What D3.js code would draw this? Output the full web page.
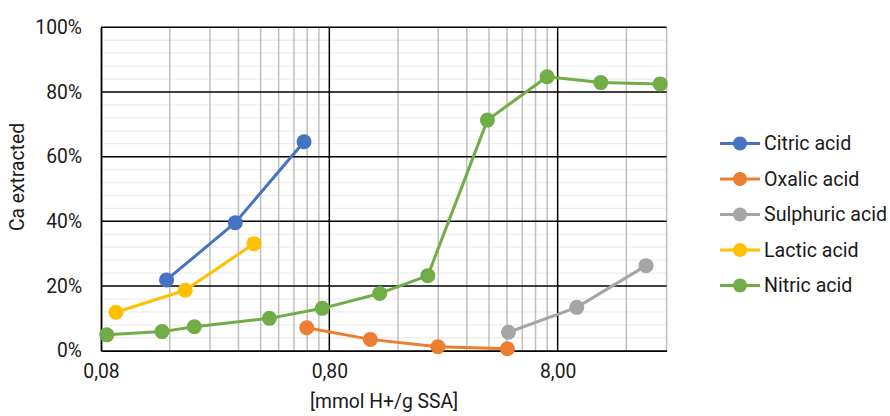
<!DOCTYPE html>
<html>
<head>
<meta charset="utf-8">
<script src="https://cdn.jsdelivr.net/npm/d3@7"></script>
<style>
body { margin: 0; background: #fff; }
svg text { font-family: Roboto, "Noto Sans", sans-serif; fill: #1a1a1a; }
</style>
</head>
<body>
<svg id="chart" width="890" height="416"></svg>
<script>
// ---- data ----
const seriesNames = ["Citric acid", "Oxalic acid", "Sulphuric acid", "Lactic acid", "Nitric acid"];
const citricX = [0.155, 0.31, 0.62];
const citricY = [0.219, 0.396, 0.646];
const oxalicX = [0.637, 1.21, 2.39, 4.82];
const oxalicY = [0.071, 0.035, 0.012, 0.006];
const sulphuricX = [4.87, 9.7, 19.5];
const sulphuricY = [0.057, 0.134, 0.263];
const lacticX = [0.093, 0.187, 0.374];
const lacticY = [0.119, 0.187, 0.331];
const nitricX = [0.0848, 0.148, 0.205, 0.437, 0.745, 1.33, 2.16, 3.94, 7.19, 12.36, 22.5];
const nitricY = [0.049, 0.059, 0.074, 0.100, 0.131, 0.177, 0.232, 0.713, 0.847, 0.829, 0.825];
const xTickValues = [0.08, 0.8, 8];
const yTickValues = [0, 0.2, 0.4, 0.6, 0.8, 1.0];
const colors = ["#4472C4", "#ED7D31", "#A5A5A5", "#FFC000", "#70AD47"];
const xTitle = "[mmol H+/g SSA]";
const yTitle = "Ca extracted";

const seriesX = [citricX, oxalicX, sulphuricX, lacticX, nitricX];
const seriesY = [citricY, oxalicY, sulphuricY, lacticY, nitricY];

// ---- layout ----
const svg = d3.select("#chart");
const pLeft = 101, pRight = 666.6, pTop = 27.3, pBottom = 350.7;
const fs = 19.3;

const x = d3.scaleLog().domain([0.08, 24]).range([pLeft, pRight]);
const y = d3.scaleLinear().domain([0, 1]).range([pBottom, pTop]);

// minor horizontal gridlines (every 4%)
const minorY = d3.range(0, 101, 4).filter(v => v % 20 !== 0).map(v => v / 100);
svg.append("g").selectAll("line").data(minorY).join("line")
  .attr("x1", pLeft).attr("x2", pRight)
  .attr("y1", d => y(d)).attr("y2", d => y(d))
  .attr("stroke", "#eeeeee").attr("stroke-width", 1.3);

// minor vertical gridlines
const minorX = [];
xTickValues.forEach(b => { for (let k = 2; k <= 9; k++) { const v = b * k; if (v <= 24.0001) minorX.push(v); } });
svg.append("g").selectAll("line").data(minorX).join("line")
  .attr("x1", d => x(d)).attr("x2", d => x(d))
  .attr("y1", pTop).attr("y2", pBottom)
  .attr("stroke", "#bfbfbf").attr("stroke-width", 1.5);

// major horizontal gridlines
svg.append("g").selectAll("line").data(yTickValues.slice(1)).join("line")
  .attr("x1", pLeft).attr("x2", pRight)
  .attr("y1", d => y(d)).attr("y2", d => y(d))
  .attr("stroke", "#000").attr("stroke-width", 1.5);

// major vertical gridlines
svg.append("g").selectAll("line").data(xTickValues.slice(1)).join("line")
  .attr("x1", d => x(d)).attr("x2", d => x(d))
  .attr("y1", pTop).attr("y2", pBottom)
  .attr("stroke", "#000").attr("stroke-width", 1.5);

// axes
const fmtX = v => d3.format(".2f")(v).replace(".", ",");
const xAxis = d3.axisBottom(x).tickValues(xTickValues).tickFormat(fmtX).tickSize(0).tickPadding(14);
const gx = svg.append("g").attr("transform", `translate(0,${pBottom})`).call(xAxis);
gx.select(".domain").attr("stroke", "#000").attr("stroke-width", 1.8);
gx.selectAll("text").attr("font-size", fs).attr("fill", "#1a1a1a");

const yAxis = d3.axisLeft(y).tickValues(yTickValues).tickFormat(d3.format(".0%")).tickSize(0).tickPadding(19);
const gy = svg.append("g").attr("transform", `translate(${pLeft},0)`).call(yAxis);
gy.select(".domain").attr("stroke", "#000").attr("stroke-width", 1.8);
gy.selectAll("text").attr("font-size", fs).attr("fill", "#1a1a1a");

// titles
svg.append("text").attr("x", 384).attr("y", 408).attr("text-anchor", "middle")
  .attr("font-size", fs).text(xTitle);
svg.append("text").attr("transform", "translate(24,177) rotate(-90)")
  .attr("text-anchor", "middle").attr("font-size", fs).text(yTitle);

// series
const line = d3.line().x(d => x(d[0])).y(d => y(d[1]));
seriesNames.forEach((name, i) => {
  const pts = seriesX[i].map((v, j) => [v, seriesY[i][j]]);
  const g = svg.append("g");
  g.append("path").datum(pts).attr("d", line)
    .attr("fill", "none").attr("stroke", colors[i]).attr("stroke-width", 3).attr("stroke-linejoin", "round");
  g.selectAll("circle").data(pts).join("circle")
    .attr("cx", d => x(d[0])).attr("cy", d => y(d[1])).attr("r", 7.5)
    .attr("fill", colors[i]);
});

// legend
const lg = svg.append("g");
seriesNames.forEach((name, i) => {
  const yy = 143.5 + i * 35.5;
  lg.append("line").attr("x1", 720).attr("x2", 760).attr("y1", yy).attr("y2", yy)
    .attr("stroke", colors[i]).attr("stroke-width", 3);
  lg.append("circle").attr("cx", 740).attr("cy", yy).attr("r", 7).attr("fill", colors[i]);
  lg.append("text").attr("x", 764).attr("y", yy).attr("dy", "0.35em")
    .attr("font-size", 19.6).text(name);
});
</script>
</body>
</html>
